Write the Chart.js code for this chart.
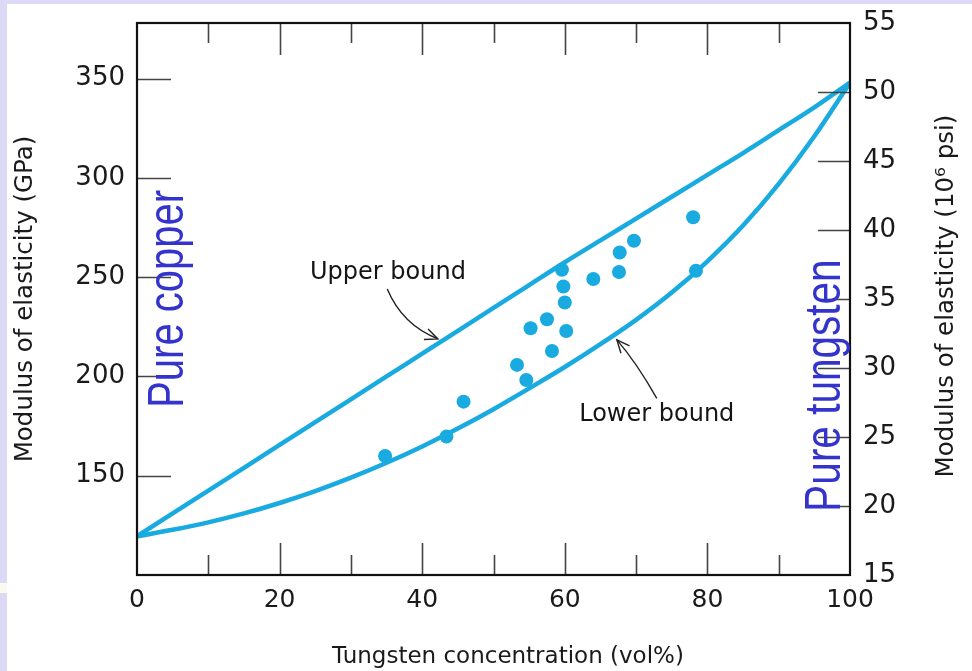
<!DOCTYPE html>
<html><head><meta charset="utf-8">
<script src="https://cdn.jsdelivr.net/npm/chart.js@4.4.1/dist/chart.umd.min.js"></script>
<style>html,body{margin:0;padding:0;background:#fff;overflow:hidden}canvas{display:block}</style>
</head><body>
<canvas id="c" width="972" height="671"></canvas>
<script>
// ---- data ----
const concentration = [0,5,10,15,20,25,30,35,40,45,50,55,60,65,70,75,80,85,90,95,100];
const upperBound = [119.5,131,142.5,154,165.5,177,188.5,200,211.5,223,234.5,246,257.5,268.5,279.5,290.5,301.5,312.5,324,335.5,348];
const lowerBound = [119.5,122.75,126.5,131,136.25,142.25,149,156.5,164.75,173.75,183.5,194,204.75,216.25,228.5,242.25,258,276,297,321,348];
const sampleConc = [34.8,43.4,45.8,53.3,54.6,55.2,57.5,58.2,59.6,59.8,60.0,60.2,64.0,67.6,67.7,69.7,78.0,78.4];
const sampleModulus = [159.9,169.7,187.3,205.8,198.2,224.3,228.8,212.8,253.7,245.3,237.2,222.9,249.1,252.6,262.4,268.3,280.2,253.2];
const xTickValues = [0,10,20,30,40,50,60,70,80,90,100];
const gpaTicks = [150,200,250,300,350];
const psiTicks = [15,20,25,30,35,40,45,50,55];

const BLUE = '#19aae0';
const FONT = "'DejaVu Sans', sans-serif";

// annotation positions in data units (concentration, GPa)
const notes = [
  {text:'Upper bound', at:[35.2,252.1], arrow:[[35.1,244],[37.2,226],[42.2,218.9]]},
  {text:'Lower bound', at:[72.9,180.5], arrow:[[72.9,189],[70.0,207.3],[67.3,218.4]]}
];
const sideLabels = [
  {text:'Pure copper', at:[6.45,184.2], sx:0.80},
  {text:'Pure tungsten', at:[98.6,131.9], sx:0.81}
];

const decor = {
  id:'decor',
  beforeDraw(chart){
    const c = chart.ctx;
    c.save();
    c.fillStyle = '#fff'; c.fillRect(0,0,chart.width,chart.height);
    c.fillStyle = '#dcd9f6';
    c.fillRect(0,0,chart.width,4);
    c.fillRect(0,0,7,chart.height);
    c.fillStyle = '#fbfaf0'; c.fillRect(0,583,7,10);
    c.restore();
  },
  afterDraw(chart){
    const c = chart.ctx, a = chart.chartArea;
    const xs = chart.scales.x, ys = chart.scales.y, y2 = chart.scales.y2;
    c.save();
    // inward tick marks
    c.strokeStyle = '#444'; c.lineWidth = 1.6;
    c.beginPath();
    xs.ticks.forEach(t => {
      if (t.value <= 0 || t.value >= 100) return;
      const px = Math.round(xs.getPixelForValue(t.value)) + 0.5;
      const len = t.value % 20 === 0 ? 32 : 20;
      c.moveTo(px, a.bottom); c.lineTo(px, a.bottom - len);
      c.moveTo(px, a.top); c.lineTo(px, a.top + len);
    });
    ys.ticks.forEach(t => {
      const py = Math.round(ys.getPixelForValue(t.value)) + 0.5;
      c.moveTo(a.left, py); c.lineTo(a.left + 34, py);
    });
    y2.ticks.forEach(t => {
      if (t.value <= 15 || t.value >= 55) return;
      const py = Math.round(y2.getPixelForValue(t.value)) + 0.5;
      c.moveTo(a.right, py); c.lineTo(a.right - 32, py);
    });
    c.stroke();
    // frame
    c.strokeStyle = '#111'; c.lineWidth = 2.2;
    c.strokeRect(a.left, a.top, a.right - a.left, a.bottom - a.top);

    // annotations
    c.fillStyle = '#151515';
    c.font = "24px " + FONT;
    c.textAlign = 'center'; c.textBaseline = 'middle';
    notes.forEach(n => {
      c.fillText(n.text, xs.getPixelForValue(n.at[0]), ys.getPixelForValue(n.at[1]));
      const p = n.arrow.map(q => [xs.getPixelForValue(q[0]), ys.getPixelForValue(q[1])]);
      c.strokeStyle = '#222'; c.lineWidth = 1.4;
      c.beginPath(); c.moveTo(p[0][0], p[0][1]);
      c.quadraticCurveTo(p[1][0], p[1][1], p[2][0], p[2][1]); c.stroke();
      const ang = Math.atan2(p[2][1]-p[1][1], p[2][0]-p[1][0]);
      const L = 14, w = 0.42;
      c.beginPath();
      c.moveTo(p[2][0] - L*Math.cos(ang - w), p[2][1] - L*Math.sin(ang - w));
      c.lineTo(p[2][0], p[2][1]);
      c.lineTo(p[2][0] - L*Math.cos(ang + w), p[2][1] - L*Math.sin(ang + w));
      c.stroke();
    });

    // Pure copper / Pure tungsten
    c.fillStyle = '#3434cc';
    c.font = "50px 'Liberation Sans', Arial, sans-serif";
    c.textAlign = 'left'; c.textBaseline = 'alphabetic';
    sideLabels.forEach(s => {
      c.save();
      c.translate(xs.getPixelForValue(s.at[0]), ys.getPixelForValue(s.at[1]));
      c.rotate(-Math.PI/2);
      c.scale(s.sx, 1);
      c.fillText(s.text, 0, 0);
      c.restore();
    });

    // axis titles (bottom and right)
    c.fillStyle = '#1a1a1a';
    c.font = "23px " + FONT;
    c.textAlign = 'center'; c.textBaseline = 'middle';
    c.fillText('Tungsten concentration (vol%)', 508, 657);
    c.font = "24.5px " + FONT;
    c.save();
    c.translate(947, 296); c.rotate(-Math.PI/2);
    c.fillText('Modulus of elasticity (10\u2076 psi)', 0, 0);
    c.restore();
    c.restore();
  }
};

new Chart(document.getElementById('c'), {
  type: 'line',
  data: {
    datasets: [
      {label:'Upper bound', data: concentration.map((x,i)=>({x, y: upperBound[i]})),
       borderColor: BLUE, borderWidth: 4.5, pointRadius: 0, cubicInterpolationMode: 'monotone', yAxisID: 'y', order: 2},
      {label:'Lower bound', data: concentration.map((x,i)=>({x, y: lowerBound[i]})),
       borderColor: BLUE, borderWidth: 4.5, pointRadius: 0, cubicInterpolationMode: 'monotone', yAxisID: 'y', order: 2},
      {type:'scatter', label:'Measured', data: sampleConc.map((x,i)=>({x, y: sampleModulus[i]})),
       backgroundColor: BLUE, borderColor: BLUE, borderWidth: 0, pointRadius: 7, yAxisID: 'y', order: 1}
    ]
  },
  options: {
    responsive: false, animation: false, devicePixelRatio: 1,
    layout: {padding: {top: 23, left: 0, right: 0, bottom: 0}},
    plugins: {legend: {display: false}, tooltip: {enabled: false}},
    scales: {
      x: {
        type: 'linear', position: 'bottom', min: 0, max: 100,
        afterFit(s){ s.height = 96; s.paddingLeft = 0; s.paddingRight = 0; },
        afterBuildTicks(s){ s.ticks = xTickValues.map(v => ({value: v})); },
        grid: {display: false, drawTicks: false}, border: {display: false},
        ticks: {autoSkip: false, maxRotation: 0, padding: 10, color: '#1a1a1a',
                font: {family: FONT, size: 25},
                callback: v => (v % 20 === 0 ? String(v) : '')}
      },
      y: {
        type: 'linear', position: 'left', min: 100, max: 378,
        afterFit(s){ s.width = 137; s.paddingTop = 0; s.paddingBottom = 0; },
        afterBuildTicks(s){ s.ticks = gpaTicks.map(v => ({value: v})); },
        grid: {display: false, drawTicks: false}, border: {display: false},
        ticks: {padding: 12, color: '#1a1a1a', font: {family: FONT, size: 26}},
        title: {display: true, text: 'Modulus of elasticity (GPa)', color: '#1a1a1a',
                font: {family: FONT, size: 24.5}, padding: {top: 11, bottom: 0}}
      },
      y2: {
        type: 'linear', position: 'right', min: 15, max: 55,
        afterFit(s){ s.width = 122; s.paddingTop = 0; s.paddingBottom = 0; },
        afterBuildTicks(s){ s.ticks = psiTicks.map(v => ({value: v})); },
        grid: {display: false, drawTicks: false}, border: {display: false},
        ticks: {padding: 13, color: '#1a1a1a', font: {family: FONT, size: 26}}
      }
    }
  },
  plugins: [decor]
});
</script>
</body></html>
